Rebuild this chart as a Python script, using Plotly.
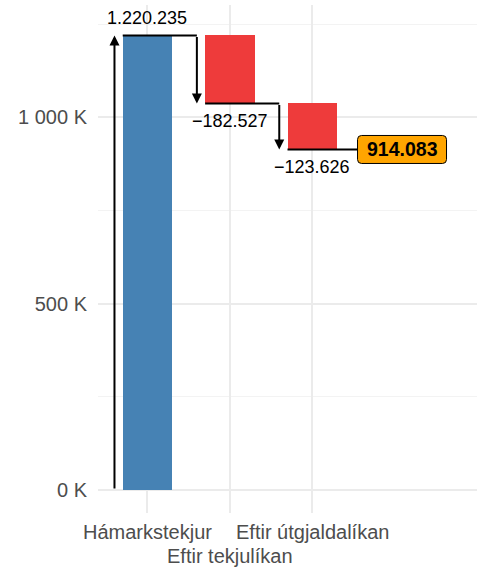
import plotly.graph_objects as go

# Gögn
flokkar = ["Hámarkstekjur", "Eftir tekjulíkan", "Eftir útgjaldalíkan"]
breytingar = [1220235, -182527, -123626]
litir = ["#4682B4", "#EE3B3B", "#EE3B3B"]
lokastada = 914083

y_tick_vals = [0, 500000, 1000000]
y_tick_text = ["0 K", "500 K", "1 000 K"]
y_minor_vals = [250000, 750000, 1250000]

FONT = "Liberation Sans, Arial, sans-serif"


def isl_tala(v):
    s = f"{abs(v):,}".replace(",", ".")
    return ("\u2212" + s) if v < 0 else s


x_pos = list(range(1, len(flokkar) + 1))
starts, ends = [], []
cur = 0
for b in breytingar:
    starts.append(cur)
    cur += b
    ends.append(cur)

fig = go.Figure()
fig.add_trace(
    go.Bar(
        x=x_pos,
        y=[abs(e - s) for s, e in zip(starts, ends)],
        base=[min(s, e) for s, e in zip(starts, ends)],
        width=0.6,
        marker=dict(color=litir, line=dict(width=0)),
        showlegend=False,
        hoverinfo="skip",
    )
)

# tengilínur
label_x = len(flokkar) + 0.55
for i, e in enumerate(ends):
    x0 = x_pos[i] - 0.3
    x1 = x_pos[i] + 0.6 if i < len(ends) - 1 else label_x
    fig.add_trace(
        go.Scatter(
            x=[x0, x1], y=[e, e], mode="lines",
            line=dict(color="black", width=2),
            showlegend=False, hoverinfo="skip",
        )
    )

# örvar
for i, (s, e) in enumerate(zip(starts, ends)):
    xa = x_pos[i] - 0.4
    fig.add_annotation(
        x=xa, y=e, ax=xa, ay=s, xref="x", yref="y", axref="x", ayref="y",
        text="", showarrow=True, arrowhead=2, arrowsize=1.0, arrowwidth=2,
        arrowcolor="black", standoff=0, startstandoff=0,
    )

# gildismerki
for i, (b, e) in enumerate(zip(breytingar, ends)):
    if i == 0:
        fig.add_annotation(
            x=x_pos[i], y=e, text=isl_tala(b), showarrow=False,
            yanchor="bottom", yshift=5,
            font=dict(family=FONT, size=18, color="black"),
        )
    else:
        fig.add_annotation(
            x=x_pos[i], y=e, text=isl_tala(b), showarrow=False,
            yanchor="top", yshift=-6,
            font=dict(family=FONT, size=18, color="black"),
        )

# lokastaða í appelsínugulum kassa
w, h, r = 89, 14, 4
path = (
    f"M {r},{-h} L {w - r},{-h} Q {w},{-h} {w},{-h + r} L {w},{h - r} "
    f"Q {w},{h} {w - r},{h} L {r},{h} Q 0,{h} 0,{h - r} L 0,{-h + r} "
    f"Q 0,{-h} {r},{-h} Z"
)
fig.add_shape(
    type="path", path=path, xref="x", yref="y",
    xsizemode="pixel", ysizemode="pixel",
    xanchor=label_x, yanchor=lokastada,
    fillcolor="#FFA500", line=dict(color="black", width=1), layer="above",
)
fig.add_annotation(
    x=label_x, y=lokastada, xshift=w / 2, text=f"<b>{isl_tala(lokastada)}</b>",
    showarrow=False, xanchor="center", yanchor="middle",
    font=dict(family=FONT, size=19.5, color="black"),
)

# flokkamerki á x-ás, á tveimur línum til skiptis
for i, t in enumerate(flokkar):
    fig.add_annotation(
        x=x_pos[i], y=0, xref="x", yref="paper", text=t, showarrow=False,
        yanchor="middle", yshift=-19 if i % 2 == 0 else -43,
        font=dict(family=FONT, size=20, color="#4D4D4D"),
    )

fig.update_layout(
    width=487, height=567,
    margin=dict(l=98, r=10, t=5, b=54),
    plot_bgcolor="white", paper_bgcolor="white",
    font=dict(family=FONT, size=20, color="#4D4D4D"),
    bargap=0,
    xaxis=dict(
        range=[0.4, 5.0], tickvals=x_pos, showticklabels=False,
        automargin=False,
        showgrid=True, gridcolor="#EBEBEB", gridwidth=2, zeroline=False,
    ),
    yaxis=dict(
        range=[-62000, 1302000], tickvals=y_tick_vals, ticktext=y_tick_text,
        automargin=False,
        showgrid=True, gridcolor="#EBEBEB", gridwidth=2, zeroline=False,
        ticks="outside", ticklen=6, tickcolor="rgba(0,0,0,0)",
        tickfont=dict(family=FONT, size=20, color="#4D4D4D"),
        minor=dict(tickvals=y_minor_vals, showgrid=True, gridcolor="#F3F3F3", gridwidth=1),
    ),
)

fig.write_html(
    "out.html",
    config={"displayModeBar": False},
    post_script="document.body.style.margin='0';",
)
